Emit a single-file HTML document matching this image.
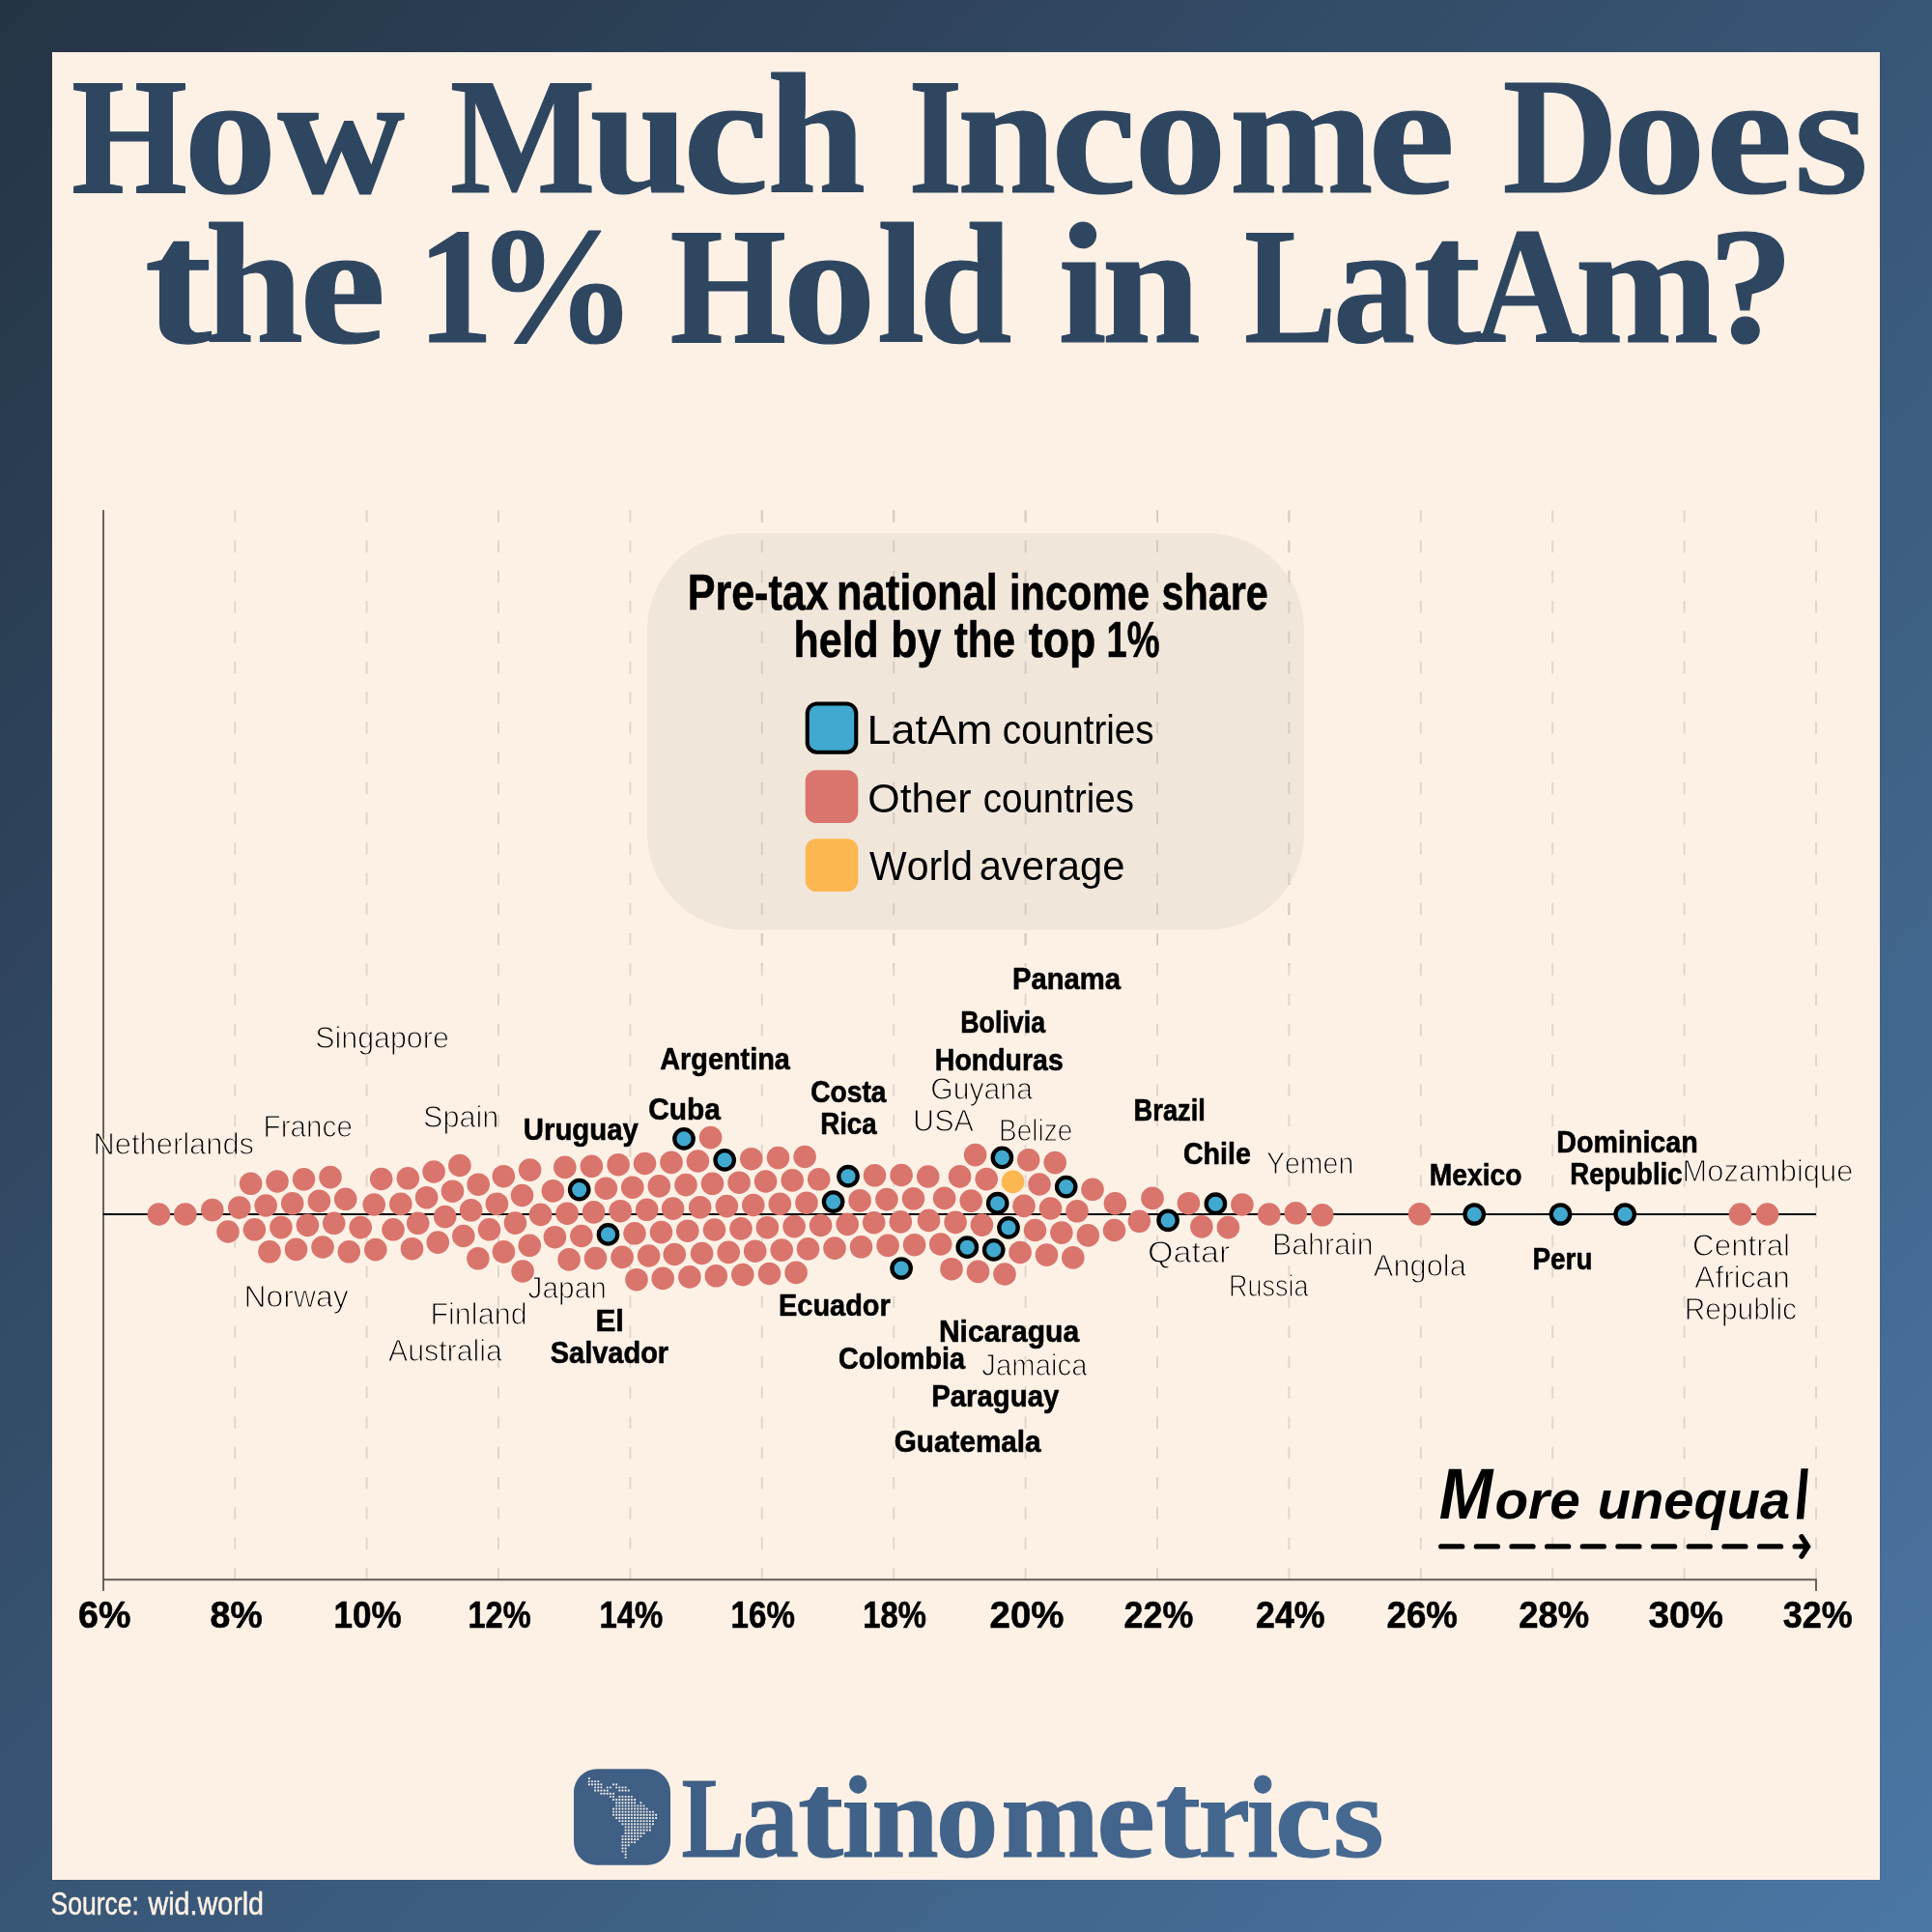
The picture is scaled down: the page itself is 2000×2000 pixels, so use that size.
<!DOCTYPE html>
<html><head><meta charset="utf-8"><title>How Much Income Does the 1% Hold in LatAm?</title>
<style>
html,body{margin:0;padding:0;background:#2b3f55;}
body{width:2000px;height:2000px;overflow:hidden;font-family:"Liberation Sans",sans-serif;}
svg{display:block;will-change:transform}
text{font-family:"Liberation Sans",sans-serif;white-space:pre;font-kerning:none;font-variant-ligatures:none}
text.sf{font-family:"Liberation Serif",serif}
.lt text{stroke:#fdf1e6;stroke-width:1.1px;stroke-linejoin:round}
.ttl text{stroke:#2f4660;stroke-width:1.2px;stroke-linejoin:round}
.bd text{stroke:#000;stroke-width:0.6px;stroke-linejoin:round}
</style></head><body>
<svg width="2000" height="2000" viewBox="0 0 2000 2000">
<defs><linearGradient id="g" x1="0" y1="0" x2="1" y2="1"><stop offset="0" stop-color="#253445"/><stop offset="1" stop-color="#4b77a5"/></linearGradient>
<linearGradient id="lg" gradientUnits="userSpaceOnUse" x1="594" y1="0" x2="1430" y2="0"><stop offset="0" stop-color="#3e5d82"/><stop offset="1" stop-color="#466992"/></linearGradient></defs>
<rect width="2000" height="2000" fill="url(#g)"/>
<rect x="54" y="54" width="1892" height="1892" fill="#fdf1e6"/>
<g class="ttl">
<text class="sf" transform="translate(74.06 199.00) scale(0.8938 1.0000)" font-size="172.6" font-weight="bold" fill="#2f4660" >H</text>
<text class="sf" transform="translate(190.37 199.00) scale(1.1155 1.0300)" font-size="172.6" font-weight="bold" fill="#2f4660" >o</text>
<text class="sf" transform="translate(287.37 199.00) scale(1.0575 1.0300)" font-size="172.6" font-weight="bold" fill="#2f4660" >w</text>
<text class="sf" transform="translate(465.77 199.00) scale(0.9259 1.0000)" font-size="172.6" font-weight="bold" fill="#2f4660" >M</text>
<text class="sf" transform="translate(610.63 199.00) scale(1.0604 1.0300)" font-size="172.6" font-weight="bold" fill="#2f4660" >u</text>
<text class="sf" transform="translate(706.97 199.00) scale(1.1579 1.0300)" font-size="172.6" font-weight="bold" fill="#2f4660" >c</text>
<text class="sf" transform="translate(794.24 199.00) scale(1.0608 1.0300)" font-size="172.6" font-weight="bold" fill="#2f4660" >h</text>
<text class="sf" transform="translate(940.38 199.00) scale(0.8283 1.0000)" font-size="172.6" font-weight="bold" fill="#2f4660" >I</text>
<text class="sf" transform="translate(990.95 199.00) scale(1.0671 1.0300)" font-size="172.6" font-weight="bold" fill="#2f4660" >n</text>
<text class="sf" transform="translate(1088.09 199.00) scale(1.1549 1.0300)" font-size="172.6" font-weight="bold" fill="#2f4660" >c</text>
<text class="sf" transform="translate(1174.00 199.00) scale(1.1100 1.0300)" font-size="172.6" font-weight="bold" fill="#2f4660" >o</text>
<text class="sf" transform="translate(1272.79 199.00) scale(1.0368 1.0300)" font-size="172.6" font-weight="bold" fill="#2f4660" >m</text>
<text class="sf" transform="translate(1415.94 199.00) scale(1.1790 1.0300)" font-size="172.6" font-weight="bold" fill="#2f4660" >e</text>
<text class="sf" transform="translate(1555.49 199.00) scale(0.9604 1.0000)" font-size="172.6" font-weight="bold" fill="#2f4660" >D</text>
<text class="sf" transform="translate(1669.57 199.00) scale(1.1155 1.0300)" font-size="172.6" font-weight="bold" fill="#2f4660" >o</text>
<text class="sf" transform="translate(1765.67 199.00) scale(1.1745 1.0300)" font-size="172.6" font-weight="bold" fill="#2f4660" >e</text>
<text class="sf" transform="translate(1857.00 199.00) scale(1.1485 1.0300)" font-size="172.6" font-weight="bold" fill="#2f4660" >s</text>
<text class="sf" transform="translate(149.73 353.50) scale(1.2107 1.0700)" font-size="172.6" font-weight="bold" fill="#2f4660" >t</text>
<text class="sf" transform="translate(212.34 353.50) scale(1.0608 1.0300)" font-size="172.6" font-weight="bold" fill="#2f4660" >h</text>
<text class="sf" transform="translate(310.02 353.50) scale(1.1669 1.0300)" font-size="172.6" font-weight="bold" fill="#2f4660" >e</text>
<text class="sf" transform="translate(432.13 353.50) scale(0.9096 1.0000)" font-size="172.6" font-weight="bold" fill="#2f4660" >1</text>
<text class="sf" transform="translate(492.83 353.50) scale(0.9645 1.0000)" font-size="172.6" font-weight="bold" fill="#2f4660" >%</text>
<text class="sf" transform="translate(693.55 353.50) scale(0.8977 1.0000)" font-size="172.6" font-weight="bold" fill="#2f4660" >H</text>
<text class="sf" transform="translate(810.57 353.50) scale(1.1155 1.0300)" font-size="172.6" font-weight="bold" fill="#2f4660" >o</text>
<text class="sf" transform="translate(907.93 353.50) scale(1.0304 1.0300)" font-size="172.6" font-weight="bold" fill="#2f4660" >l</text>
<text class="sf" transform="translate(951.19 353.50) scale(1.0016 1.0300)" font-size="172.6" font-weight="bold" fill="#2f4660" >d</text>
<text class="sf" transform="translate(1095.45 353.50) scale(1.0424 1.0300)" font-size="172.6" font-weight="bold" fill="#2f4660" >i</text>
<text class="sf" transform="translate(1140.55 353.50) scale(1.0671 1.0300)" font-size="172.6" font-weight="bold" fill="#2f4660" >n</text>
<text class="sf" transform="translate(1287.96 353.50) scale(0.8273 1.0000)" font-size="172.6" font-weight="bold" fill="#2f4660" >L</text>
<text class="sf" transform="translate(1379.79 353.50) scale(0.9907 1.0300)" font-size="172.6" font-weight="bold" fill="#2f4660" >a</text>
<text class="sf" transform="translate(1462.91 353.50) scale(1.2199 1.0700)" font-size="172.6" font-weight="bold" fill="#2f4660" >t</text>
<text class="sf" transform="translate(1526.62 353.50) scale(0.8768 1.0000)" font-size="172.6" font-weight="bold" fill="#2f4660" >A</text>
<text class="sf" transform="translate(1630.39 353.50) scale(1.0368 1.0300)" font-size="172.6" font-weight="bold" fill="#2f4660" >m</text>
<text class="sf" transform="translate(1768.36 353.50) scale(1.0279 1.0000)" font-size="172.6" font-weight="bold" fill="#2f4660" >?</text>
</g>
<line x1="243.2" y1="528.3" x2="243.2" y2="1635" stroke="#dfd7ce" stroke-width="2" stroke-dasharray="12.5 18.77"/>
<line x1="379.6" y1="528.3" x2="379.6" y2="1635" stroke="#dfd7ce" stroke-width="2" stroke-dasharray="12.5 18.77"/>
<line x1="516.0" y1="528.3" x2="516.0" y2="1635" stroke="#dfd7ce" stroke-width="2" stroke-dasharray="12.5 18.77"/>
<line x1="652.4" y1="528.3" x2="652.4" y2="1635" stroke="#dfd7ce" stroke-width="2" stroke-dasharray="12.5 18.77"/>
<line x1="788.8" y1="528.3" x2="788.8" y2="1635" stroke="#dfd7ce" stroke-width="2" stroke-dasharray="12.5 18.77"/>
<line x1="925.2" y1="528.3" x2="925.2" y2="1635" stroke="#dfd7ce" stroke-width="2" stroke-dasharray="12.5 18.77"/>
<line x1="1061.6" y1="528.3" x2="1061.6" y2="1635" stroke="#dfd7ce" stroke-width="2" stroke-dasharray="12.5 18.77"/>
<line x1="1198.0" y1="528.3" x2="1198.0" y2="1635" stroke="#dfd7ce" stroke-width="2" stroke-dasharray="12.5 18.77"/>
<line x1="1334.4" y1="528.3" x2="1334.4" y2="1635" stroke="#dfd7ce" stroke-width="2" stroke-dasharray="12.5 18.77"/>
<line x1="1470.8" y1="528.3" x2="1470.8" y2="1635" stroke="#dfd7ce" stroke-width="2" stroke-dasharray="12.5 18.77"/>
<line x1="1607.2" y1="528.3" x2="1607.2" y2="1635" stroke="#dfd7ce" stroke-width="2" stroke-dasharray="12.5 18.77"/>
<line x1="1743.6" y1="528.3" x2="1743.6" y2="1635" stroke="#dfd7ce" stroke-width="2" stroke-dasharray="12.5 18.77"/>
<line x1="1880.0" y1="528.3" x2="1880.0" y2="1635" stroke="#dfd7ce" stroke-width="2" stroke-dasharray="12.5 18.77"/>
<path d="M107 528 V1647 M107 1635.3 H1880 V1647" fill="none" stroke="#635c56" stroke-width="1.9"/>
<rect x="670" y="552" width="680" height="410.5" rx="100" ry="100" fill="#f1e6da"/>
<line x1="788.8" y1="528.3" x2="788.8" y2="1000" stroke="#d6cdc3" stroke-width="2" stroke-dasharray="12.5 18.77"/>
<line x1="925.2" y1="528.3" x2="925.2" y2="1000" stroke="#d6cdc3" stroke-width="2" stroke-dasharray="12.5 18.77"/>
<line x1="1061.6" y1="528.3" x2="1061.6" y2="1000" stroke="#d6cdc3" stroke-width="2" stroke-dasharray="12.5 18.77"/>
<line x1="1198.0" y1="528.3" x2="1198.0" y2="1000" stroke="#d6cdc3" stroke-width="2" stroke-dasharray="12.5 18.77"/>
<line x1="1334.4" y1="528.3" x2="1334.4" y2="1000" stroke="#d6cdc3" stroke-width="2" stroke-dasharray="12.5 18.77"/>
<g class="bd">
<text  transform="translate(711.72 630.50) scale(0.8437 1.0000)" font-size="51" font-weight="bold" fill="#000" >Pre-tax</text>
<text  transform="translate(866.03 630.50) scale(0.8534 1.0000)" font-size="51" font-weight="bold" fill="#000" >national</text>
<text  transform="translate(1045.11 630.50) scale(0.8127 1.0000)" font-size="51" font-weight="bold" fill="#000" >income</text>
<text  transform="translate(1202.55 630.50) scale(0.8102 1.0000)" font-size="51" font-weight="bold" fill="#000" >share</text>
<text  transform="translate(821.60 680.40) scale(0.8415 1.0000)" font-size="51" font-weight="bold" fill="#000" >held</text>
<text  transform="translate(922.36 680.40) scale(0.8733 1.0000)" font-size="51" font-weight="bold" fill="#000" >by</text>
<text  transform="translate(987.68 680.40) scale(0.8296 1.0000)" font-size="51" font-weight="bold" fill="#000" >the</text>
<text  transform="translate(1064.85 680.40) scale(0.8763 1.0000)" font-size="51" font-weight="bold" fill="#000" >top</text>
<text  transform="translate(1145.50 680.40) scale(0.7476 1.0000)" font-size="51" font-weight="bold" fill="#000" >1%</text>
</g>
<rect x="835.75" y="728.45" width="50.5" height="50.3" rx="10" fill="#41a9cf" stroke="#000" stroke-width="4.1"/>
<rect x="833.7" y="797.2" width="54.6" height="54.9" rx="11.5" fill="#d9756c"/>
<rect x="833.7" y="868.2" width="54.6" height="54.9" rx="11.5" fill="#fdb750"/>
<text  transform="translate(897.51 769.70) scale(1.0465 1.0000)" font-size="43" font-weight="normal" fill="#000" >LatAm</text>
<text  transform="translate(1037.86 769.70) scale(0.8989 1.0000)" font-size="43" font-weight="normal" fill="#000" >countries</text>
<text  transform="translate(898.27 841.20) scale(0.9982 1.0000)" font-size="43" font-weight="normal" fill="#000" >Other</text>
<text  transform="translate(1017.76 841.20) scale(0.8954 1.0000)" font-size="43" font-weight="normal" fill="#000" >countries</text>
<text  transform="translate(900.12 910.60) scale(0.9513 1.0000)" font-size="43" font-weight="normal" fill="#000" >World</text>
<text  transform="translate(1013.63 910.60) scale(0.9706 1.0000)" font-size="43" font-weight="normal" fill="#000" >average</text>
<line x1="106.8" y1="1257" x2="1880" y2="1257" stroke="#000" stroke-width="1.8"/>
<g fill="#d9756c">
<circle cx="164.4" cy="1257.0" r="11.8"/>
<circle cx="191.9" cy="1257.0" r="11.8"/>
<circle cx="219.8" cy="1252.6" r="11.8"/>
<circle cx="247.8" cy="1250.1" r="11.8"/>
<circle cx="275.2" cy="1248.0" r="11.8"/>
<circle cx="302.7" cy="1245.8" r="11.8"/>
<circle cx="330.4" cy="1243.4" r="11.8"/>
<circle cx="357.7" cy="1241.3" r="11.8"/>
<circle cx="387.2" cy="1247.0" r="11.8"/>
<circle cx="414.8" cy="1246.4" r="11.8"/>
<circle cx="259.6" cy="1225.3" r="11.8"/>
<circle cx="287.0" cy="1223.0" r="11.8"/>
<circle cx="314.5" cy="1220.8" r="11.8"/>
<circle cx="342.0" cy="1218.6" r="11.8"/>
<circle cx="394.7" cy="1220.5" r="11.8"/>
<circle cx="422.3" cy="1219.8" r="11.8"/>
<circle cx="236.0" cy="1275.0" r="11.8"/>
<circle cx="263.4" cy="1272.8" r="11.8"/>
<circle cx="290.9" cy="1270.6" r="11.8"/>
<circle cx="318.4" cy="1268.4" r="11.8"/>
<circle cx="345.7" cy="1266.3" r="11.8"/>
<circle cx="373.2" cy="1270.6" r="11.8"/>
<circle cx="407.0" cy="1272.8" r="11.8"/>
<circle cx="432.7" cy="1266.3" r="11.8"/>
<circle cx="279.0" cy="1295.8" r="11.8"/>
<circle cx="306.5" cy="1293.4" r="11.8"/>
<circle cx="334.0" cy="1291.0" r="11.8"/>
<circle cx="361.3" cy="1295.8" r="11.8"/>
<circle cx="388.8" cy="1293.6" r="11.8"/>
<circle cx="426.5" cy="1292.7" r="11.8"/>
<circle cx="449.1" cy="1213.0" r="11.8"/>
<circle cx="475.9" cy="1206.5" r="11.8"/>
<circle cx="441.6" cy="1239.7" r="11.8"/>
<circle cx="468.5" cy="1233.2" r="11.8"/>
<circle cx="495.2" cy="1226.2" r="11.8"/>
<circle cx="521.3" cy="1217.7" r="11.8"/>
<circle cx="548.6" cy="1211.1" r="11.8"/>
<circle cx="460.7" cy="1259.6" r="11.8"/>
<circle cx="487.6" cy="1252.8" r="11.8"/>
<circle cx="514.4" cy="1246.2" r="11.8"/>
<circle cx="540.5" cy="1237.5" r="11.8"/>
<circle cx="453.3" cy="1286.1" r="11.8"/>
<circle cx="479.8" cy="1279.5" r="11.8"/>
<circle cx="506.5" cy="1272.8" r="11.8"/>
<circle cx="533.4" cy="1266.1" r="11.8"/>
<circle cx="559.6" cy="1257.4" r="11.8"/>
<circle cx="494.9" cy="1302.8" r="11.8"/>
<circle cx="521.4" cy="1295.9" r="11.8"/>
<circle cx="548.3" cy="1289.3" r="11.8"/>
<circle cx="541.1" cy="1316.0" r="11.8"/>
<circle cx="572.4" cy="1232.9" r="11.8"/>
<circle cx="584.8" cy="1208.4" r="11.8"/>
<circle cx="612.4" cy="1207.3" r="11.8"/>
<circle cx="627.3" cy="1230.2" r="11.8"/>
<circle cx="640.1" cy="1205.7" r="11.8"/>
<circle cx="654.8" cy="1229.2" r="11.8"/>
<circle cx="667.5" cy="1204.5" r="11.8"/>
<circle cx="682.3" cy="1227.9" r="11.8"/>
<circle cx="695.0" cy="1203.4" r="11.8"/>
<circle cx="587.1" cy="1256.2" r="11.8"/>
<circle cx="614.6" cy="1254.9" r="11.8"/>
<circle cx="642.2" cy="1253.7" r="11.8"/>
<circle cx="669.7" cy="1252.3" r="11.8"/>
<circle cx="696.6" cy="1251.1" r="11.8"/>
<circle cx="574.4" cy="1280.7" r="11.8"/>
<circle cx="601.9" cy="1279.5" r="11.8"/>
<circle cx="657.0" cy="1276.8" r="11.8"/>
<circle cx="684.5" cy="1275.6" r="11.8"/>
<circle cx="589.1" cy="1303.9" r="11.8"/>
<circle cx="616.5" cy="1302.6" r="11.8"/>
<circle cx="644.1" cy="1301.4" r="11.8"/>
<circle cx="671.6" cy="1300.0" r="11.8"/>
<circle cx="698.3" cy="1298.5" r="11.8"/>
<circle cx="659.0" cy="1324.7" r="11.8"/>
<circle cx="686.2" cy="1323.4" r="11.8"/>
<circle cx="735.6" cy="1177.6" r="11.8"/>
<circle cx="722.4" cy="1202.0" r="11.8"/>
<circle cx="777.8" cy="1199.7" r="11.8"/>
<circle cx="805.5" cy="1198.6" r="11.8"/>
<circle cx="833.1" cy="1197.5" r="11.8"/>
<circle cx="710.0" cy="1226.6" r="11.8"/>
<circle cx="737.5" cy="1225.3" r="11.8"/>
<circle cx="765.1" cy="1224.2" r="11.8"/>
<circle cx="792.6" cy="1223.0" r="11.8"/>
<circle cx="820.2" cy="1221.9" r="11.8"/>
<circle cx="847.7" cy="1220.8" r="11.8"/>
<circle cx="905.5" cy="1216.8" r="11.8"/>
<circle cx="933.1" cy="1216.5" r="11.8"/>
<circle cx="960.7" cy="1218.0" r="11.8"/>
<circle cx="724.7" cy="1249.8" r="11.8"/>
<circle cx="752.4" cy="1248.6" r="11.8"/>
<circle cx="779.8" cy="1247.5" r="11.8"/>
<circle cx="807.3" cy="1246.3" r="11.8"/>
<circle cx="835.0" cy="1245.2" r="11.8"/>
<circle cx="890.1" cy="1242.9" r="11.8"/>
<circle cx="917.9" cy="1241.6" r="11.8"/>
<circle cx="945.5" cy="1240.8" r="11.8"/>
<circle cx="977.6" cy="1240.4" r="11.8"/>
<circle cx="711.8" cy="1274.2" r="11.8"/>
<circle cx="739.5" cy="1273.0" r="11.8"/>
<circle cx="767.0" cy="1271.9" r="11.8"/>
<circle cx="794.4" cy="1270.7" r="11.8"/>
<circle cx="822.1" cy="1269.6" r="11.8"/>
<circle cx="849.6" cy="1268.5" r="11.8"/>
<circle cx="877.2" cy="1267.4" r="11.8"/>
<circle cx="904.7" cy="1265.7" r="11.8"/>
<circle cx="932.3" cy="1264.9" r="11.8"/>
<circle cx="961.5" cy="1263.4" r="11.8"/>
<circle cx="726.6" cy="1297.5" r="11.8"/>
<circle cx="754.2" cy="1296.4" r="11.8"/>
<circle cx="781.7" cy="1295.2" r="11.8"/>
<circle cx="809.2" cy="1294.1" r="11.8"/>
<circle cx="836.5" cy="1292.9" r="11.8"/>
<circle cx="864.0" cy="1292.1" r="11.8"/>
<circle cx="891.5" cy="1290.8" r="11.8"/>
<circle cx="919.1" cy="1289.3" r="11.8"/>
<circle cx="946.6" cy="1288.7" r="11.8"/>
<circle cx="973.7" cy="1288.0" r="11.8"/>
<circle cx="713.9" cy="1321.9" r="11.8"/>
<circle cx="741.3" cy="1320.8" r="11.8"/>
<circle cx="768.8" cy="1319.6" r="11.8"/>
<circle cx="796.5" cy="1318.5" r="11.8"/>
<circle cx="824.1" cy="1317.4" r="11.8"/>
<circle cx="985.0" cy="1313.7" r="11.8"/>
<circle cx="1009.6" cy="1195.6" r="11.8"/>
<circle cx="1064.7" cy="1200.8" r="11.8"/>
<circle cx="1092.2" cy="1203.6" r="11.8"/>
<circle cx="993.6" cy="1217.9" r="11.8"/>
<circle cx="1021.2" cy="1220.6" r="11.8"/>
<circle cx="1076.0" cy="1226.0" r="11.8"/>
<circle cx="1131.0" cy="1231.3" r="11.8"/>
<circle cx="1005.2" cy="1243.1" r="11.8"/>
<circle cx="1060.0" cy="1248.4" r="11.8"/>
<circle cx="1087.5" cy="1251.0" r="11.8"/>
<circle cx="1115.0" cy="1253.8" r="11.8"/>
<circle cx="1154.4" cy="1245.9" r="11.8"/>
<circle cx="1193.0" cy="1240.4" r="11.8"/>
<circle cx="1230.4" cy="1245.7" r="11.8"/>
<circle cx="989.1" cy="1265.4" r="11.8"/>
<circle cx="1016.4" cy="1268.1" r="11.8"/>
<circle cx="1071.5" cy="1273.5" r="11.8"/>
<circle cx="1098.9" cy="1276.1" r="11.8"/>
<circle cx="1126.3" cy="1278.9" r="11.8"/>
<circle cx="1153.5" cy="1273.5" r="11.8"/>
<circle cx="1179.4" cy="1264.3" r="11.8"/>
<circle cx="1056.1" cy="1296.5" r="11.8"/>
<circle cx="1083.5" cy="1299.1" r="11.8"/>
<circle cx="1110.8" cy="1301.9" r="11.8"/>
<circle cx="1012.5" cy="1316.4" r="11.8"/>
<circle cx="1040.0" cy="1319.0" r="11.8"/>
<circle cx="1285.9" cy="1247.0" r="11.8"/>
<circle cx="1243.9" cy="1269.9" r="11.8"/>
<circle cx="1271.4" cy="1270.6" r="11.8"/>
<circle cx="1313.8" cy="1257.0" r="11.8"/>
<circle cx="1341.3" cy="1255.8" r="11.8"/>
<circle cx="1368.8" cy="1257.8" r="11.8"/>
<circle cx="1469.6" cy="1256.8" r="11.8"/>
<circle cx="1801.5" cy="1257.0" r="11.8"/>
<circle cx="1829.5" cy="1257.0" r="11.8"/>
</g>
<g fill="#fdb750">
<circle cx="1048.5" cy="1223.4" r="11.8"/>
</g>
<g fill="#41a9cf" stroke="#000" stroke-width="4.3">
<circle cx="599.7" cy="1231.6" r="9.7"/>
<circle cx="629.5" cy="1277.9" r="9.7"/>
<circle cx="708.0" cy="1178.9" r="9.7"/>
<circle cx="750.2" cy="1200.9" r="9.7"/>
<circle cx="878.0" cy="1217.7" r="9.7"/>
<circle cx="862.6" cy="1244.1" r="9.7"/>
<circle cx="933.1" cy="1313.0" r="9.7"/>
<circle cx="1037.4" cy="1198.4" r="9.7"/>
<circle cx="1103.7" cy="1228.6" r="9.7"/>
<circle cx="1032.7" cy="1245.7" r="9.7"/>
<circle cx="1044.0" cy="1270.9" r="9.7"/>
<circle cx="1209.1" cy="1263.3" r="9.7"/>
<circle cx="1001.3" cy="1291.2" r="9.7"/>
<circle cx="1028.7" cy="1293.9" r="9.7"/>
<circle cx="1258.4" cy="1246.2" r="9.7"/>
<circle cx="1526.2" cy="1257.0" r="9.7"/>
<circle cx="1615.5" cy="1257.0" r="9.7"/>
<circle cx="1682.2" cy="1257.0" r="9.7"/>
</g>
<g class="lt">
<text  transform="translate(96.46 1195.30) scale(0.9658 1.0000)" font-size="32" font-weight="normal" fill="#000" >Netherlands</text>
<text  transform="translate(272.57 1176.60) scale(0.9273 1.0000)" font-size="32" font-weight="normal" fill="#000" >France</text>
<text  transform="translate(438.01 1166.80) scale(0.9577 1.0000)" font-size="32" font-weight="normal" fill="#000" >Spain</text>
<text  transform="translate(326.22 1085.30) scale(0.9502 1.0000)" font-size="32" font-weight="normal" fill="#000" >Singapore</text>
<text  transform="translate(963.18 1137.90) scale(0.9442 1.0000)" font-size="32" font-weight="normal" fill="#000" >Guyana</text>
<text  transform="translate(945.04 1171.00) scale(0.9563 1.0000)" font-size="32" font-weight="normal" fill="#000" >USA</text>
<text  transform="translate(1034.10 1181.30) scale(0.8748 1.0000)" font-size="32" font-weight="normal" fill="#000" >Belize</text>
<text  transform="translate(1310.97 1215.00) scale(0.8914 1.0000)" font-size="32" font-weight="normal" fill="#000" >Yemen</text>
<text  transform="translate(252.48 1353.40) scale(0.9983 1.0000)" font-size="32" font-weight="normal" fill="#000" >Norway</text>
<text  transform="translate(445.39 1371.00) scale(0.9555 1.0000)" font-size="32" font-weight="normal" fill="#000" >Finland</text>
<text  transform="translate(546.53 1344.30) scale(0.9337 1.0000)" font-size="32" font-weight="normal" fill="#000" >Japan</text>
<text  transform="translate(402.04 1409.00) scale(0.9467 1.0000)" font-size="32" font-weight="normal" fill="#000" >Australia</text>
<text  transform="translate(1016.34 1423.70) scale(0.9161 1.0000)" font-size="32" font-weight="normal" fill="#000" >Jamaica</text>
<text  transform="translate(1187.98 1306.60) scale(1.0669 1.0000)" font-size="32" font-weight="normal" fill="#000" >Qatar</text>
<text  transform="translate(1316.90 1299.30) scale(0.9508 1.0000)" font-size="32" font-weight="normal" fill="#000" >Bahrain</text>
<text  transform="translate(1272.09 1342.40) scale(0.8436 1.0000)" font-size="32" font-weight="normal" fill="#000" >Russia</text>
<text  transform="translate(1421.84 1320.50) scale(0.9631 1.0000)" font-size="32" font-weight="normal" fill="#000" >Angola</text>
<text  transform="translate(1741.57 1223.40) scale(0.9651 1.0000)" font-size="32" font-weight="normal" fill="#000" >Mozambique</text>
<text  transform="translate(1752.11 1299.80) scale(0.9790 1.0000)" font-size="32" font-weight="normal" fill="#000" >Central</text>
<text  transform="translate(1754.34 1332.90) scale(0.9882 1.0000)" font-size="32" font-weight="normal" fill="#000" >African</text>
<text  transform="translate(1743.75 1366.30) scale(0.9343 1.0000)" font-size="32" font-weight="normal" fill="#000" >Republic</text>
</g>
<g class="bd">
<text  transform="translate(541.84 1179.50) scale(0.9170 1.0000)" font-size="32" font-weight="bold" fill="#000" >Uruguay</text>
<text  transform="translate(671.27 1158.60) scale(0.9342 1.0000)" font-size="32" font-weight="bold" fill="#000" >Cuba</text>
<text  transform="translate(683.18 1106.80) scale(0.9022 1.0000)" font-size="32" font-weight="bold" fill="#000" >Argentina</text>
<text  transform="translate(839.14 1140.50) scale(0.8816 1.0000)" font-size="32" font-weight="bold" fill="#000" >Costa</text>
<text  transform="translate(849.14 1173.60) scale(0.8666 1.0000)" font-size="32" font-weight="bold" fill="#000" >Rica</text>
<text  transform="translate(1047.94 1023.50) scale(0.9139 1.0000)" font-size="32" font-weight="bold" fill="#000" >Panama</text>
<text  transform="translate(994.31 1069.30) scale(0.8360 1.0000)" font-size="32" font-weight="bold" fill="#000" >Bolivia</text>
<text  transform="translate(967.79 1107.60) scale(0.8911 1.0000)" font-size="32" font-weight="bold" fill="#000" >Honduras</text>
<text  transform="translate(1173.57 1160.40) scale(0.8533 1.0000)" font-size="32" font-weight="bold" fill="#000" >Brazil</text>
<text  transform="translate(1224.93 1205.10) scale(0.8941 1.0000)" font-size="32" font-weight="bold" fill="#000" >Chile</text>
<text  transform="translate(616.40 1377.50) scale(0.9796 1.0000)" font-size="32" font-weight="bold" fill="#000" >El</text>
<text  transform="translate(569.77 1411.10) scale(0.9053 1.0000)" font-size="32" font-weight="bold" fill="#000" >Salvador</text>
<text  transform="translate(806.07 1362.10) scale(0.9035 1.0000)" font-size="32" font-weight="bold" fill="#000" >Ecuador</text>
<text  transform="translate(971.89 1389.30) scale(0.9392 1.0000)" font-size="32" font-weight="bold" fill="#000" >Nicaragua</text>
<text  transform="translate(867.92 1416.50) scale(0.8993 1.0000)" font-size="32" font-weight="bold" fill="#000" >Colombia</text>
<text  transform="translate(964.14 1456.00) scale(0.9177 1.0000)" font-size="32" font-weight="bold" fill="#000" >Paraguay</text>
<text  transform="translate(925.78 1503.20) scale(0.9279 1.0000)" font-size="32" font-weight="bold" fill="#000" >Guatemala</text>
<text  transform="translate(1479.81 1226.80) scale(0.8811 1.0000)" font-size="32" font-weight="bold" fill="#000" >Mexico</text>
<text  transform="translate(1611.28 1193.10) scale(0.8956 1.0000)" font-size="32" font-weight="bold" fill="#000" >Dominican</text>
<text  transform="translate(1625.36 1226.00) scale(0.8595 1.0000)" font-size="32" font-weight="bold" fill="#000" >Republic</text>
<text  transform="translate(1586.43 1314.00) scale(0.8731 1.0000)" font-size="32" font-weight="bold" fill="#000" >Peru</text>
</g>
<text  transform="translate(1489.83 1572.40) scale(0.9020 1.0000)" font-size="74" font-weight="bold" font-style="italic" fill="#000" >M</text>
<text  transform="translate(1547.46 1572.40) scale(1.0124 1.0000)" font-size="56" font-weight="bold" font-style="italic" fill="#000" >ore</text>
<text  transform="translate(1653.77 1572.40) scale(1.0013 1.0000)" font-size="56" font-weight="bold" font-style="italic" fill="#000" >unequa</text>
<polygon points="1859.8,1572.4 1867.1,1572.4 1871.8,1520.2 1864.5,1520.2" fill="#000"/>
<line x1="1491.7" y1="1600.9" x2="1848" y2="1600.9" stroke="#000" stroke-width="5.3" stroke-linecap="round" stroke-dasharray="22 14.65"/>
<path d="M1858.2 1600.9 H1870 M1865 1590.7 L1871.6 1600.9 L1865 1611.1" fill="none" stroke="#000" stroke-width="5.3" stroke-linecap="round" stroke-linejoin="miter"/>
<g class="bd">
<text  transform="translate(81.02 1685.30) scale(0.9695 1.0000)" font-size="38.8" font-weight="bold" fill="#000" >6%</text>
<text  transform="translate(217.61 1685.30) scale(0.9661 1.0000)" font-size="38.8" font-weight="bold" fill="#000" >8%</text>
<text  transform="translate(345.49 1685.30) scale(0.9031 1.0000)" font-size="38.8" font-weight="bold" fill="#000" >10%</text>
<text  transform="translate(484.40 1685.30) scale(0.8397 1.0000)" font-size="38.8" font-weight="bold" fill="#000" >12%</text>
<text  transform="translate(620.42 1685.30) scale(0.8492 1.0000)" font-size="38.8" font-weight="bold" fill="#000" >14%</text>
<text  transform="translate(756.61 1685.30) scale(0.8546 1.0000)" font-size="38.8" font-weight="bold" fill="#000" >16%</text>
<text  transform="translate(893.28 1685.30) scale(0.8478 1.0000)" font-size="38.8" font-weight="bold" fill="#000" >18%</text>
<text  transform="translate(1024.62 1685.30) scale(0.9895 1.0000)" font-size="38.8" font-weight="bold" fill="#000" >20%</text>
<text  transform="translate(1163.61 1685.30) scale(0.9231 1.0000)" font-size="38.8" font-weight="bold" fill="#000" >22%</text>
<text  transform="translate(1300.01 1685.30) scale(0.9231 1.0000)" font-size="38.8" font-weight="bold" fill="#000" >24%</text>
<text  transform="translate(1435.53 1685.30) scale(0.9457 1.0000)" font-size="38.8" font-weight="bold" fill="#000" >26%</text>
<text  transform="translate(1572.19 1685.30) scale(0.9391 1.0000)" font-size="38.8" font-weight="bold" fill="#000" >28%</text>
<text  transform="translate(1706.51 1685.30) scale(0.9981 1.0000)" font-size="38.8" font-weight="bold" fill="#000" >30%</text>
<text  transform="translate(1845.73 1685.30) scale(0.9255 1.0000)" font-size="38.8" font-weight="bold" fill="#000" >32%</text>
</g>
<rect x="594" y="1831.2" width="100" height="99.6" rx="24" fill="#3f5f85"/>
<g fill="#f4ece4">
<rect x="608.86" y="1840.01" width="1.9" height="1.9" rx="0.5"/>
<rect x="608.86" y="1843.16" width="1.9" height="1.9" rx="0.5"/>
<rect x="612.02" y="1843.16" width="1.9" height="1.9" rx="0.5"/>
<rect x="615.17" y="1843.16" width="1.9" height="1.9" rx="0.5"/>
<rect x="618.32" y="1843.16" width="1.9" height="1.9" rx="0.5"/>
<rect x="608.86" y="1846.32" width="1.9" height="1.9" rx="0.5"/>
<rect x="612.02" y="1846.32" width="1.9" height="1.9" rx="0.5"/>
<rect x="615.17" y="1846.32" width="1.9" height="1.9" rx="0.5"/>
<rect x="618.32" y="1846.32" width="1.9" height="1.9" rx="0.5"/>
<rect x="621.47" y="1846.32" width="1.9" height="1.9" rx="0.5"/>
<rect x="634.08" y="1846.32" width="1.9" height="1.9" rx="0.5"/>
<rect x="637.23" y="1846.32" width="1.9" height="1.9" rx="0.5"/>
<rect x="615.17" y="1849.47" width="1.9" height="1.9" rx="0.5"/>
<rect x="618.32" y="1849.47" width="1.9" height="1.9" rx="0.5"/>
<rect x="621.47" y="1849.47" width="1.9" height="1.9" rx="0.5"/>
<rect x="627.78" y="1849.47" width="1.9" height="1.9" rx="0.5"/>
<rect x="630.93" y="1849.47" width="1.9" height="1.9" rx="0.5"/>
<rect x="637.23" y="1849.47" width="1.9" height="1.9" rx="0.5"/>
<rect x="640.39" y="1849.47" width="1.9" height="1.9" rx="0.5"/>
<rect x="643.54" y="1849.47" width="1.9" height="1.9" rx="0.5"/>
<rect x="646.69" y="1849.47" width="1.9" height="1.9" rx="0.5"/>
<rect x="615.17" y="1852.62" width="1.9" height="1.9" rx="0.5"/>
<rect x="618.32" y="1852.62" width="1.9" height="1.9" rx="0.5"/>
<rect x="621.47" y="1852.62" width="1.9" height="1.9" rx="0.5"/>
<rect x="624.62" y="1852.62" width="1.9" height="1.9" rx="0.5"/>
<rect x="627.78" y="1852.62" width="1.9" height="1.9" rx="0.5"/>
<rect x="640.39" y="1852.62" width="1.9" height="1.9" rx="0.5"/>
<rect x="643.54" y="1852.62" width="1.9" height="1.9" rx="0.5"/>
<rect x="646.69" y="1852.62" width="1.9" height="1.9" rx="0.5"/>
<rect x="649.84" y="1852.62" width="1.9" height="1.9" rx="0.5"/>
<rect x="621.47" y="1855.77" width="1.9" height="1.9" rx="0.5"/>
<rect x="624.62" y="1855.77" width="1.9" height="1.9" rx="0.5"/>
<rect x="627.78" y="1855.77" width="1.9" height="1.9" rx="0.5"/>
<rect x="630.93" y="1855.77" width="1.9" height="1.9" rx="0.5"/>
<rect x="634.08" y="1855.77" width="1.9" height="1.9" rx="0.5"/>
<rect x="630.93" y="1858.93" width="1.9" height="1.9" rx="0.5"/>
<rect x="634.08" y="1858.93" width="1.9" height="1.9" rx="0.5"/>
<rect x="640.39" y="1858.93" width="1.9" height="1.9" rx="0.5"/>
<rect x="643.54" y="1858.93" width="1.9" height="1.9" rx="0.5"/>
<rect x="646.69" y="1858.93" width="1.9" height="1.9" rx="0.5"/>
<rect x="649.84" y="1858.93" width="1.9" height="1.9" rx="0.5"/>
<rect x="652.99" y="1858.93" width="1.9" height="1.9" rx="0.5"/>
<rect x="634.08" y="1862.08" width="1.9" height="1.9" rx="0.5"/>
<rect x="637.23" y="1862.08" width="1.9" height="1.9" rx="0.5"/>
<rect x="640.39" y="1862.08" width="1.9" height="1.9" rx="0.5"/>
<rect x="643.54" y="1862.08" width="1.9" height="1.9" rx="0.5"/>
<rect x="646.69" y="1862.08" width="1.9" height="1.9" rx="0.5"/>
<rect x="649.84" y="1862.08" width="1.9" height="1.9" rx="0.5"/>
<rect x="652.99" y="1862.08" width="1.9" height="1.9" rx="0.5"/>
<rect x="656.15" y="1862.08" width="1.9" height="1.9" rx="0.5"/>
<rect x="637.23" y="1865.23" width="1.9" height="1.9" rx="0.5"/>
<rect x="640.39" y="1865.23" width="1.9" height="1.9" rx="0.5"/>
<rect x="643.54" y="1865.23" width="1.9" height="1.9" rx="0.5"/>
<rect x="646.69" y="1865.23" width="1.9" height="1.9" rx="0.5"/>
<rect x="649.84" y="1865.23" width="1.9" height="1.9" rx="0.5"/>
<rect x="652.99" y="1865.23" width="1.9" height="1.9" rx="0.5"/>
<rect x="656.15" y="1865.23" width="1.9" height="1.9" rx="0.5"/>
<rect x="662.45" y="1865.23" width="1.9" height="1.9" rx="0.5"/>
<rect x="637.23" y="1868.38" width="1.9" height="1.9" rx="0.5"/>
<rect x="640.39" y="1868.38" width="1.9" height="1.9" rx="0.5"/>
<rect x="643.54" y="1868.38" width="1.9" height="1.9" rx="0.5"/>
<rect x="646.69" y="1868.38" width="1.9" height="1.9" rx="0.5"/>
<rect x="649.84" y="1868.38" width="1.9" height="1.9" rx="0.5"/>
<rect x="652.99" y="1868.38" width="1.9" height="1.9" rx="0.5"/>
<rect x="656.15" y="1868.38" width="1.9" height="1.9" rx="0.5"/>
<rect x="659.30" y="1868.38" width="1.9" height="1.9" rx="0.5"/>
<rect x="662.45" y="1868.38" width="1.9" height="1.9" rx="0.5"/>
<rect x="665.60" y="1868.38" width="1.9" height="1.9" rx="0.5"/>
<rect x="634.08" y="1871.53" width="1.9" height="1.9" rx="0.5"/>
<rect x="637.23" y="1871.53" width="1.9" height="1.9" rx="0.5"/>
<rect x="640.39" y="1871.53" width="1.9" height="1.9" rx="0.5"/>
<rect x="643.54" y="1871.53" width="1.9" height="1.9" rx="0.5"/>
<rect x="646.69" y="1871.53" width="1.9" height="1.9" rx="0.5"/>
<rect x="649.84" y="1871.53" width="1.9" height="1.9" rx="0.5"/>
<rect x="652.99" y="1871.53" width="1.9" height="1.9" rx="0.5"/>
<rect x="656.15" y="1871.53" width="1.9" height="1.9" rx="0.5"/>
<rect x="659.30" y="1871.53" width="1.9" height="1.9" rx="0.5"/>
<rect x="662.45" y="1871.53" width="1.9" height="1.9" rx="0.5"/>
<rect x="665.60" y="1871.53" width="1.9" height="1.9" rx="0.5"/>
<rect x="668.75" y="1871.53" width="1.9" height="1.9" rx="0.5"/>
<rect x="634.08" y="1874.69" width="1.9" height="1.9" rx="0.5"/>
<rect x="637.23" y="1874.69" width="1.9" height="1.9" rx="0.5"/>
<rect x="640.39" y="1874.69" width="1.9" height="1.9" rx="0.5"/>
<rect x="643.54" y="1874.69" width="1.9" height="1.9" rx="0.5"/>
<rect x="646.69" y="1874.69" width="1.9" height="1.9" rx="0.5"/>
<rect x="649.84" y="1874.69" width="1.9" height="1.9" rx="0.5"/>
<rect x="652.99" y="1874.69" width="1.9" height="1.9" rx="0.5"/>
<rect x="656.15" y="1874.69" width="1.9" height="1.9" rx="0.5"/>
<rect x="659.30" y="1874.69" width="1.9" height="1.9" rx="0.5"/>
<rect x="662.45" y="1874.69" width="1.9" height="1.9" rx="0.5"/>
<rect x="665.60" y="1874.69" width="1.9" height="1.9" rx="0.5"/>
<rect x="668.75" y="1874.69" width="1.9" height="1.9" rx="0.5"/>
<rect x="671.91" y="1874.69" width="1.9" height="1.9" rx="0.5"/>
<rect x="675.06" y="1874.69" width="1.9" height="1.9" rx="0.5"/>
<rect x="634.08" y="1877.84" width="1.9" height="1.9" rx="0.5"/>
<rect x="637.23" y="1877.84" width="1.9" height="1.9" rx="0.5"/>
<rect x="640.39" y="1877.84" width="1.9" height="1.9" rx="0.5"/>
<rect x="643.54" y="1877.84" width="1.9" height="1.9" rx="0.5"/>
<rect x="646.69" y="1877.84" width="1.9" height="1.9" rx="0.5"/>
<rect x="649.84" y="1877.84" width="1.9" height="1.9" rx="0.5"/>
<rect x="652.99" y="1877.84" width="1.9" height="1.9" rx="0.5"/>
<rect x="656.15" y="1877.84" width="1.9" height="1.9" rx="0.5"/>
<rect x="659.30" y="1877.84" width="1.9" height="1.9" rx="0.5"/>
<rect x="662.45" y="1877.84" width="1.9" height="1.9" rx="0.5"/>
<rect x="665.60" y="1877.84" width="1.9" height="1.9" rx="0.5"/>
<rect x="668.75" y="1877.84" width="1.9" height="1.9" rx="0.5"/>
<rect x="671.91" y="1877.84" width="1.9" height="1.9" rx="0.5"/>
<rect x="675.06" y="1877.84" width="1.9" height="1.9" rx="0.5"/>
<rect x="678.21" y="1877.84" width="1.9" height="1.9" rx="0.5"/>
<rect x="637.23" y="1880.99" width="1.9" height="1.9" rx="0.5"/>
<rect x="640.39" y="1880.99" width="1.9" height="1.9" rx="0.5"/>
<rect x="643.54" y="1880.99" width="1.9" height="1.9" rx="0.5"/>
<rect x="646.69" y="1880.99" width="1.9" height="1.9" rx="0.5"/>
<rect x="649.84" y="1880.99" width="1.9" height="1.9" rx="0.5"/>
<rect x="652.99" y="1880.99" width="1.9" height="1.9" rx="0.5"/>
<rect x="656.15" y="1880.99" width="1.9" height="1.9" rx="0.5"/>
<rect x="659.30" y="1880.99" width="1.9" height="1.9" rx="0.5"/>
<rect x="662.45" y="1880.99" width="1.9" height="1.9" rx="0.5"/>
<rect x="665.60" y="1880.99" width="1.9" height="1.9" rx="0.5"/>
<rect x="668.75" y="1880.99" width="1.9" height="1.9" rx="0.5"/>
<rect x="671.91" y="1880.99" width="1.9" height="1.9" rx="0.5"/>
<rect x="675.06" y="1880.99" width="1.9" height="1.9" rx="0.5"/>
<rect x="678.21" y="1880.99" width="1.9" height="1.9" rx="0.5"/>
<rect x="640.39" y="1884.14" width="1.9" height="1.9" rx="0.5"/>
<rect x="643.54" y="1884.14" width="1.9" height="1.9" rx="0.5"/>
<rect x="646.69" y="1884.14" width="1.9" height="1.9" rx="0.5"/>
<rect x="649.84" y="1884.14" width="1.9" height="1.9" rx="0.5"/>
<rect x="652.99" y="1884.14" width="1.9" height="1.9" rx="0.5"/>
<rect x="656.15" y="1884.14" width="1.9" height="1.9" rx="0.5"/>
<rect x="659.30" y="1884.14" width="1.9" height="1.9" rx="0.5"/>
<rect x="662.45" y="1884.14" width="1.9" height="1.9" rx="0.5"/>
<rect x="665.60" y="1884.14" width="1.9" height="1.9" rx="0.5"/>
<rect x="668.75" y="1884.14" width="1.9" height="1.9" rx="0.5"/>
<rect x="671.91" y="1884.14" width="1.9" height="1.9" rx="0.5"/>
<rect x="675.06" y="1884.14" width="1.9" height="1.9" rx="0.5"/>
<rect x="643.54" y="1887.30" width="1.9" height="1.9" rx="0.5"/>
<rect x="646.69" y="1887.30" width="1.9" height="1.9" rx="0.5"/>
<rect x="649.84" y="1887.30" width="1.9" height="1.9" rx="0.5"/>
<rect x="652.99" y="1887.30" width="1.9" height="1.9" rx="0.5"/>
<rect x="656.15" y="1887.30" width="1.9" height="1.9" rx="0.5"/>
<rect x="659.30" y="1887.30" width="1.9" height="1.9" rx="0.5"/>
<rect x="662.45" y="1887.30" width="1.9" height="1.9" rx="0.5"/>
<rect x="665.60" y="1887.30" width="1.9" height="1.9" rx="0.5"/>
<rect x="668.75" y="1887.30" width="1.9" height="1.9" rx="0.5"/>
<rect x="671.91" y="1887.30" width="1.9" height="1.9" rx="0.5"/>
<rect x="675.06" y="1887.30" width="1.9" height="1.9" rx="0.5"/>
<rect x="646.69" y="1890.45" width="1.9" height="1.9" rx="0.5"/>
<rect x="649.84" y="1890.45" width="1.9" height="1.9" rx="0.5"/>
<rect x="652.99" y="1890.45" width="1.9" height="1.9" rx="0.5"/>
<rect x="656.15" y="1890.45" width="1.9" height="1.9" rx="0.5"/>
<rect x="659.30" y="1890.45" width="1.9" height="1.9" rx="0.5"/>
<rect x="662.45" y="1890.45" width="1.9" height="1.9" rx="0.5"/>
<rect x="665.60" y="1890.45" width="1.9" height="1.9" rx="0.5"/>
<rect x="668.75" y="1890.45" width="1.9" height="1.9" rx="0.5"/>
<rect x="671.91" y="1890.45" width="1.9" height="1.9" rx="0.5"/>
<rect x="646.69" y="1893.60" width="1.9" height="1.9" rx="0.5"/>
<rect x="649.84" y="1893.60" width="1.9" height="1.9" rx="0.5"/>
<rect x="652.99" y="1893.60" width="1.9" height="1.9" rx="0.5"/>
<rect x="656.15" y="1893.60" width="1.9" height="1.9" rx="0.5"/>
<rect x="659.30" y="1893.60" width="1.9" height="1.9" rx="0.5"/>
<rect x="662.45" y="1893.60" width="1.9" height="1.9" rx="0.5"/>
<rect x="665.60" y="1893.60" width="1.9" height="1.9" rx="0.5"/>
<rect x="668.75" y="1893.60" width="1.9" height="1.9" rx="0.5"/>
<rect x="671.91" y="1893.60" width="1.9" height="1.9" rx="0.5"/>
<rect x="646.69" y="1896.75" width="1.9" height="1.9" rx="0.5"/>
<rect x="649.84" y="1896.75" width="1.9" height="1.9" rx="0.5"/>
<rect x="652.99" y="1896.75" width="1.9" height="1.9" rx="0.5"/>
<rect x="656.15" y="1896.75" width="1.9" height="1.9" rx="0.5"/>
<rect x="659.30" y="1896.75" width="1.9" height="1.9" rx="0.5"/>
<rect x="662.45" y="1896.75" width="1.9" height="1.9" rx="0.5"/>
<rect x="665.60" y="1896.75" width="1.9" height="1.9" rx="0.5"/>
<rect x="643.54" y="1899.90" width="1.9" height="1.9" rx="0.5"/>
<rect x="646.69" y="1899.90" width="1.9" height="1.9" rx="0.5"/>
<rect x="649.84" y="1899.90" width="1.9" height="1.9" rx="0.5"/>
<rect x="652.99" y="1899.90" width="1.9" height="1.9" rx="0.5"/>
<rect x="656.15" y="1899.90" width="1.9" height="1.9" rx="0.5"/>
<rect x="659.30" y="1899.90" width="1.9" height="1.9" rx="0.5"/>
<rect x="662.45" y="1899.90" width="1.9" height="1.9" rx="0.5"/>
<rect x="643.54" y="1903.06" width="1.9" height="1.9" rx="0.5"/>
<rect x="646.69" y="1903.06" width="1.9" height="1.9" rx="0.5"/>
<rect x="649.84" y="1903.06" width="1.9" height="1.9" rx="0.5"/>
<rect x="652.99" y="1903.06" width="1.9" height="1.9" rx="0.5"/>
<rect x="656.15" y="1903.06" width="1.9" height="1.9" rx="0.5"/>
<rect x="659.30" y="1903.06" width="1.9" height="1.9" rx="0.5"/>
<rect x="643.54" y="1906.21" width="1.9" height="1.9" rx="0.5"/>
<rect x="646.69" y="1906.21" width="1.9" height="1.9" rx="0.5"/>
<rect x="649.84" y="1906.21" width="1.9" height="1.9" rx="0.5"/>
<rect x="652.99" y="1906.21" width="1.9" height="1.9" rx="0.5"/>
<rect x="656.15" y="1906.21" width="1.9" height="1.9" rx="0.5"/>
<rect x="643.54" y="1909.36" width="1.9" height="1.9" rx="0.5"/>
<rect x="646.69" y="1909.36" width="1.9" height="1.9" rx="0.5"/>
<rect x="649.84" y="1909.36" width="1.9" height="1.9" rx="0.5"/>
<rect x="643.54" y="1912.51" width="1.9" height="1.9" rx="0.5"/>
<rect x="646.69" y="1912.51" width="1.9" height="1.9" rx="0.5"/>
<rect x="643.54" y="1915.66" width="1.9" height="1.9" rx="0.5"/>
<rect x="646.69" y="1915.66" width="1.9" height="1.9" rx="0.5"/>
<rect x="646.69" y="1918.82" width="1.9" height="1.9" rx="0.5"/>
<rect x="646.69" y="1921.97" width="1.9" height="1.9" rx="0.5"/>
</g>
<text class="sf" transform="translate(705.42 1922.10) scale(0.8218 1.0000)" font-size="119.5" font-weight="bold" fill="#3f5f86" stroke="#3f5f86" stroke-width="1">L</text>
<text class="sf" transform="translate(768.53 1922.10) scale(0.9780 1.0150)" font-size="119.5" font-weight="bold" fill="#406087" stroke="#406087" stroke-width="1">a</text>
<text class="sf" transform="translate(825.92 1922.10) scale(1.1836 1.0580)" font-size="119.5" font-weight="bold" fill="#406187" stroke="#406187" stroke-width="1">t</text>
<text class="sf" transform="translate(871.85 1922.10) scale(0.9714 1.0150)" font-size="119.5" font-weight="bold" fill="#416288" stroke="#416288" stroke-width="1">i</text>
<text class="sf" transform="translate(902.15 1922.10) scale(1.0449 1.0150)" font-size="119.5" font-weight="bold" fill="#416289" stroke="#416289" stroke-width="1">n</text>
<text class="sf" transform="translate(968.43 1922.10) scale(1.0919 1.0150)" font-size="119.5" font-weight="bold" fill="#42638a" stroke="#42638a" stroke-width="1">o</text>
<text class="sf" transform="translate(1036.13 1922.10) scale(1.0202 1.0150)" font-size="119.5" font-weight="bold" fill="#43648b" stroke="#43648b" stroke-width="1">m</text>
<text class="sf" transform="translate(1135.11 1922.10) scale(1.1491 1.0150)" font-size="119.5" font-weight="bold" fill="#43658d" stroke="#43658d" stroke-width="1">e</text>
<text class="sf" transform="translate(1195.92 1922.10) scale(1.1836 1.0580)" font-size="119.5" font-weight="bold" fill="#44668e" stroke="#44668e" stroke-width="1">t</text>
<text class="sf" transform="translate(1240.55 1922.10) scale(1.0114 1.0150)" font-size="119.5" font-weight="bold" fill="#44678e" stroke="#44678e" stroke-width="1">r</text>
<text class="sf" transform="translate(1290.64 1922.10) scale(0.9749 1.0150)" font-size="119.5" font-weight="bold" fill="#45678f" stroke="#45678f" stroke-width="1">i</text>
<text class="sf" transform="translate(1319.83 1922.10) scale(1.1201 1.0150)" font-size="119.5" font-weight="bold" fill="#456890" stroke="#456890" stroke-width="1">c</text>
<text class="sf" transform="translate(1379.77 1922.10) scale(1.1409 1.0150)" font-size="119.5" font-weight="bold" fill="#466991" stroke="#466991" stroke-width="1">s</text>
<text  transform="translate(52.60 1982.40) scale(0.7794 1.0000)" font-size="34" font-weight="normal" fill="#fdf1e6" stroke="#fdf1e6" stroke-width="0.5">Source:</text>
<text  transform="translate(153.54 1982.40) scale(0.8433 1.0000)" font-size="34" font-weight="normal" fill="#fdf1e6" stroke="#fdf1e6" stroke-width="0.5">wid.world</text>
</svg></body></html>
